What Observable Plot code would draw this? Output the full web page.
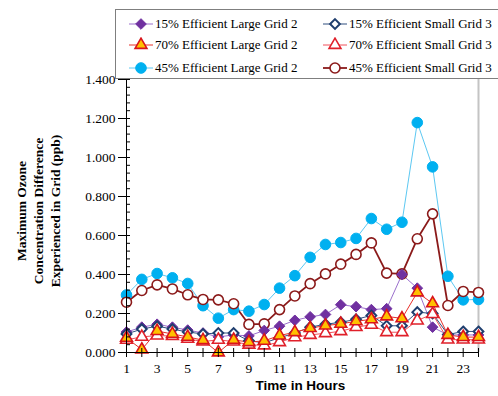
<!DOCTYPE html>
<html>
<head>
<meta charset="utf-8">
<script src="https://cdn.jsdelivr.net/npm/d3@7"></script>
<script src="https://cdn.jsdelivr.net/npm/@observablehq/plot@0.6"></script>
<style>
  html, body { margin: 0; padding: 0; background: #fff; }
  #wrap { position: relative; width: 498px; height: 396px; overflow: hidden; }
  #wrap svg { display: block; }
  #legend {
    position: absolute; left: 115px; top: 9px; width: 382px; height: 68px;
    border: 1px solid #7f7f7f; background: #fff; box-sizing: content-box;
    font-family: "Liberation Serif", serif; font-size: 13px; color: #000;
  }
  .item { position: absolute; height: 16px; display: flex; align-items: center; white-space: nowrap; }
  .item svg { margin-right: 2px; }
</style>
</head>
<body>
<div id="wrap"><div id="legend"></div></div>
<script>
// ---- data ----
const hours = [1,2,3,4,5,6,7,8,9,10,11,12,13,14,15,16,17,18,19,20,21,22,23,24];
const xTickLabels = [1,3,5,7,9,11,13,15,17,19,21,23];
const yTickLabels = [0, 0.2, 0.4, 0.6, 0.8, 1.0, 1.2, 1.4];

const eff15Large = [0.105,0.13,0.145,0.13,0.115,0.10,0.08,0.09,0.085,0.113,0.135,0.165,0.183,0.195,0.245,0.235,0.22,0.225,0.40,0.33,0.13,0.09,0.09,0.09];
const eff15Small = [0.095,0.12,0.135,0.12,0.105,0.095,0.10,0.10,0.06,0.05,0.075,0.10,0.13,0.145,0.155,0.17,0.19,0.137,0.137,0.207,0.20,0.092,0.108,0.108];
const eff70Large = [0.075,0.015,0.11,0.095,0.08,0.063,0.0,0.065,0.053,0.06,0.087,0.104,0.125,0.138,0.147,0.16,0.17,0.185,0.175,0.308,0.252,0.09,0.079,0.079];
const eff70Small = [0.065,0.08,0.087,0.084,0.07,0.056,0.065,0.056,0.04,0.036,0.053,0.078,0.09,0.099,0.109,0.13,0.142,0.104,0.104,0.164,0.197,0.066,0.066,0.066];
const eff45Large = [0.295,0.375,0.405,0.383,0.354,0.24,0.176,0.22,0.212,0.246,0.33,0.394,0.488,0.554,0.564,0.585,0.687,0.632,0.668,1.179,0.952,0.391,0.27,0.272];
const eff45Small = [0.258,0.318,0.347,0.326,0.296,0.272,0.27,0.25,0.144,0.147,0.22,0.29,0.353,0.403,0.453,0.503,0.562,0.407,0.403,0.583,0.711,0.241,0.313,0.308];

const seriesNames = [
  "15% Efficient Large Grid 2", "15% Efficient Small Grid 3",
  "70% Efficient Large Grid 2", "70% Efficient Small Grid 3",
  "45% Efficient Large Grid 2", "45% Efficient Small Grid 3"
];
const seriesValues = [eff15Large, eff15Small, eff70Large, eff70Small, eff45Large, eff45Small];

// ---- styles ----
const styles = [
  {line:"#9b6fcc", lw:1,   symbol:"diamond2", r:4.8, fill:"#7030a0", stroke:"#7030a0", sw:1},
  {line:"#2f4f7f", lw:1,   symbol:"diamond2", r:4.4, fill:"#ffffff", stroke:"#1f3e6e", sw:2},
  {line:"#e8302a", lw:1,   symbol:"triangle", r:4.4, fill:"#ffc000", stroke:"#d9141b", sw:1.6},
  {line:"#f0505a", lw:1,   symbol:"triangle", r:4.4, fill:"#ffffff", stroke:"#e0202a", sw:1.6},
  {line:"#5cc8f2", lw:1,   symbol:"circle",   r:5.3, fill:"#00b0f0", stroke:"#00b0f0", sw:1},
  {line:"#8b1a1a", lw:1.8, symbol:"circle",   r:5.0, fill:"#ffffff", stroke:"#8b1a1a", sw:1.6}
];

const tables = seriesValues.map((vals, i) => hours.map((h, j) => ({hour: h, value: vals[j], series: seriesNames[i]})));

const drawOrder = [4, 5, 0, 1, 3, 2];
const dataMarks = [];
for (const i of drawOrder) {
  const s = styles[i];
  dataMarks.push(Plot.line(tables[i], {x: "hour", y: "value", stroke: s.line, strokeWidth: s.lw}));
}
for (const i of drawOrder) {
  const s = styles[i];
  dataMarks.push(Plot.dot(tables[i], {x: "hour", y: "value", symbol: s.symbol, r: s.r, fill: s.fill, stroke: s.stroke, strokeWidth: s.sw}));
}

const yMinor = d3.range(0, 36).map(k => k * 0.04);

const chart = Plot.plot({
  width: 498,
  height: 396,
  marginLeft: 126,
  marginRight: 20,
  marginTop: 79,
  marginBottom: 44,
  style: {fontFamily: "'Liberation Serif', serif", fontSize: "13px", color: "#000", background: "transparent"},
  x: {type: "linear", domain: [1, 24]},
  y: {type: "linear", domain: [0, 1.4]},
  marks: [
    Plot.ruleX([24], {stroke: "#c4c4c4", strokeWidth: 2}),
    ...dataMarks,
    Plot.ruleX([1], {stroke: "#000"}),
    Plot.ruleY([0], {stroke: "#000"}),
    Plot.axisY(yMinor, {tickSize: 4, dx: 4, tickFormat: () => "", label: null}),
    Plot.axisY(yTickLabels, {tickSize: 12, dx: 4, tickPadding: 3, tickFormat: d3.format(".3f"), fontSize: 13.5, label: null}),
    Plot.axisX(hours, {tickSize: 9, dy: -4, tickFormat: () => "", label: null}),
    Plot.axisX(xTickLabels, {tickSize: 0, tickPadding: 11, fontSize: 13.5, label: null}),
    Plot.text(["Maximum Ozone\nConcentration Difference\nExperienced in Grid (ppb)"], {
      text: d => d, frameAnchor: "left", rotate: -90, dx: -89, dy: -5,
      fontWeight: "bold", fontSize: 13.5, lineHeight: 1.28, lineAnchor: "middle", textAnchor: "middle"
    }),
    Plot.text(["Time in Hours"], {
      text: d => d, frameAnchor: "bottom", dx: -2, dy: 37,
      fontFamily: "'Liberation Sans', Arial, sans-serif", fontWeight: "bold", fontSize: 13.5
    })
  ]
});
document.getElementById("wrap").prepend(chart);

// ---- legend ----
const legend = document.getElementById("legend");
const rowY = [13.5, 35, 57.5];
const colX = [13, 207];
seriesNames.forEach((name, i) => {
  const s = styles[i];
  const div = document.createElement("div");
  div.className = "item";
  div.style.left = colX[i % 2] + "px";
  div.style.top = (rowY[Math.floor(i / 2)] - 8) + "px";
  const ns = "http://www.w3.org/2000/svg";
  const svg = document.createElementNS(ns, "svg");
  svg.setAttribute("width", 24); svg.setAttribute("height", 16);
  const ln = document.createElementNS(ns, "line");
  ln.setAttribute("x1", 0); ln.setAttribute("x2", 24); ln.setAttribute("y1", 8); ln.setAttribute("y2", 8);
  ln.setAttribute("stroke", s.line); ln.setAttribute("stroke-width", s.lw);
  svg.appendChild(ln);
  const symMap = {circle: d3.symbolCircle, diamond2: d3.symbolDiamond2, triangle: d3.symbolTriangle};
  const p = document.createElementNS(ns, "path");
  p.setAttribute("d", d3.symbol(symMap[s.symbol], Math.PI * s.r * s.r)());
  p.setAttribute("transform", "translate(12,8)");
  p.setAttribute("fill", s.fill); p.setAttribute("stroke", s.stroke); p.setAttribute("stroke-width", s.sw);
  svg.appendChild(p);
  div.appendChild(svg);
  const span = document.createElement("span");
  span.textContent = name;
  div.appendChild(span);
  legend.appendChild(div);
});
</script>
</body>
</html>
